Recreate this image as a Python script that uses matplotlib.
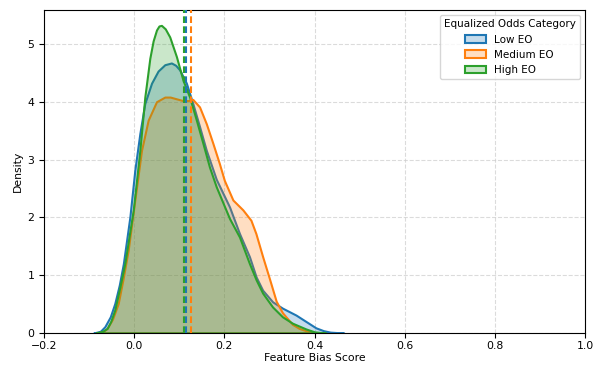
import matplotlib
matplotlib.use("Agg")
import matplotlib.pyplot as plt
from matplotlib.colors import to_rgba
from matplotlib.patches import Patch

categories = ["Low EO", "Medium EO", "High EO"]
colors = ["#1f77b4", "#ff7f0e", "#2ca02c"]

low_x = [-0.09, -0.075, -0.065, -0.053, -0.043, -0.033, -0.024, -0.0095, 0.0015, 0.0126,
         0.0236, 0.0385, 0.053, 0.068, 0.0826, 0.092, 0.101, 0.1158, 0.130, 0.145,
         0.160, 0.182, 0.2115, 0.2336, 0.2557, 0.2705, 0.285, 0.307, 0.329, 0.359,
         0.381, 0.403, 0.420, 0.435, 0.465]
low_d = [0.0, 0.03, 0.11, 0.28, 0.51, 0.83, 1.20, 2.01, 2.82, 3.45,
         3.97, 4.32, 4.53, 4.64, 4.67, 4.63, 4.55, 4.32, 3.97, 3.57,
         3.16, 2.66, 2.18, 1.72, 1.32, 0.97, 0.74, 0.54, 0.43, 0.31,
         0.20, 0.09, 0.04, 0.015, 0.0]

med_x = [-0.08, -0.068, -0.06, -0.048, -0.0354, -0.025, -0.0133, 0.0015, 0.0163, 0.031,
         0.0495, 0.068, 0.080, 0.0937, 0.108, 0.120, 0.130, 0.145, 0.160, 0.1746,
         0.189, 0.200, 0.219, 0.241, 0.259, 0.270, 0.285, 0.300, 0.315, 0.329,
         0.351, 0.366, 0.381, 0.40]
med_d = [0.0, 0.03, 0.08, 0.24, 0.51, 0.92, 1.43, 2.30, 3.16, 3.68,
         4.00, 4.08, 4.08, 4.05, 4.02, 4.02, 4.04, 3.91, 3.62, 3.28,
         2.93, 2.64, 2.30, 2.13, 1.95, 1.72, 1.32, 0.94, 0.55, 0.35,
         0.15, 0.08, 0.04, 0.0]

high_x = [-0.085, -0.07, -0.06, -0.052, -0.043, -0.032, -0.0206, -0.002, 0.0126, 0.0236,
          0.0347, 0.042, 0.0495, 0.055, 0.0605, 0.069, 0.0789, 0.0937, 0.1083, 0.123,
          0.138, 0.1525, 0.167, 0.182, 0.2115, 0.2336, 0.2557, 0.2705, 0.285, 0.307,
          0.329, 0.351, 0.381, 0.40, 0.425]
high_d = [0.0, 0.03, 0.08, 0.20, 0.40, 0.78, 1.21, 2.13, 3.16, 4.08,
          4.75, 5.05, 5.24, 5.31, 5.32, 5.26, 5.12, 4.78, 4.37, 4.08,
          3.68, 3.28, 2.87, 2.53, 1.98, 1.66, 1.20, 0.92, 0.69, 0.45,
          0.28, 0.17, 0.07, 0.02, 0.0]

means = [0.1145, 0.127, 0.110]

series_x = [low_x, med_x, high_x]
series_d = [low_d, med_d, high_d]

plt.rcParams["font.family"] = ["DejaVu Sans"]
plt.rcParams["font.size"] = 7.8

fig = plt.figure(figsize=(5.95, 3.65), dpi=100)
ax = fig.add_axes([44 / 595, 32 / 365, 541 / 595, 323 / 365])

for xs, ds, c in zip(series_x, series_d, colors):
    ax.fill_between(xs, ds, 0, facecolor=to_rgba(c, 0.25), edgecolor=c, linewidth=1.5, zorder=2)

for m, c in zip(means, colors):
    ax.axvline(m, color=c, linewidth=1.5, linestyle=(0, (3.2, 1.6)), zorder=3)

ax.set_xlim(-0.2, 1.0)
ymax = max(max(d) for d in series_d) * 1.05
ax.set_ylim(0, ymax)
ax.set_yticks([0, 1, 2, 3, 4, 5])
ax.tick_params(axis="x", pad=2.5)
ax.grid(True, linestyle="--", color="#cccccc", alpha=0.7, linewidth=0.8)
ax.set_axisbelow(True)
ax.set_xlabel("Feature Bias Score", labelpad=1.5)
ax.set_ylabel("Density", labelpad=3)

handles = [Patch(facecolor=to_rgba(c, 0.25), edgecolor=c, linewidth=1.5) for c in colors]
ax.legend(handles, categories, title="Equalized Odds Category", loc="upper right",
          fontsize=7.5, title_fontsize=7.5)

fig.savefig("out.png", dpi=100)
